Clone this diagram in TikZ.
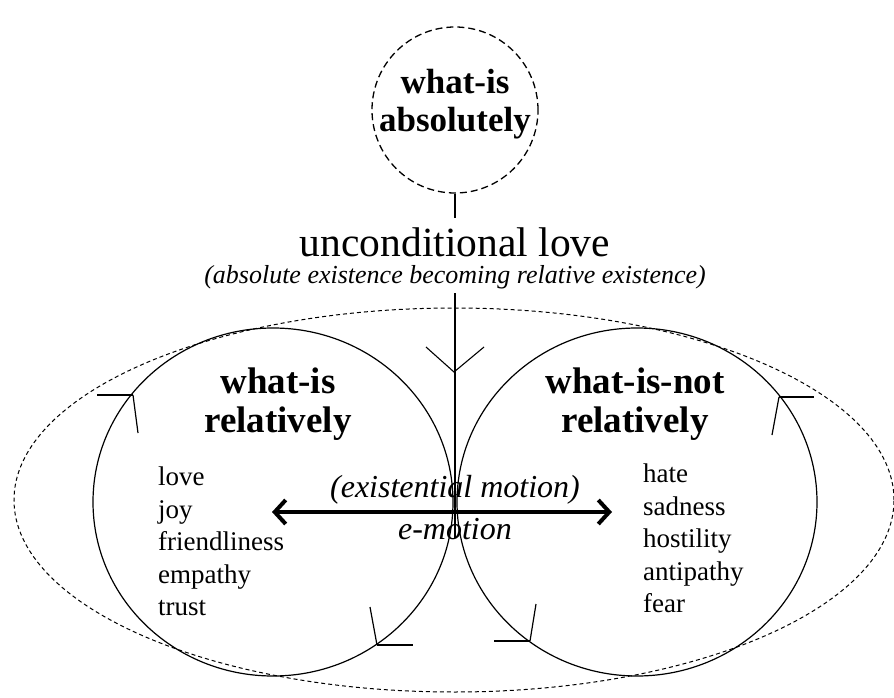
\documentclass[tikz,border=0pt]{standalone}
\usepackage{fontspec}
\setmainfont{Liberation Serif}
\usetikzlibrary{shapes.geometric,arrows.meta}
\begin{document}
\begin{tikzpicture}[x=1pt,y=-1pt,
  ring/.style={draw, ellipse, inner sep=0pt, line width=1.2pt, minimum width=360pt, minimum height=348pt},
  dashring/.style={draw, circle, inner sep=0pt, line width=1.3pt, dash pattern=on 7pt off 4pt},
  halo/.style={draw, ellipse, inner sep=0pt, line width=1pt, dash pattern=on 4pt off 3pt},
  link/.style={line width=1.1pt},
  barb/.style={line width=2.8pt},
  tick/.style={line width=1.2pt},
  title/.style={font=\fontsize{35}{38}\selectfont\bfseries, align=center, inner sep=0pt},
  bigtitle/.style={font=\fontsize{37}{39}\selectfont\bfseries, align=center, inner sep=0pt},
  words/.style={font=\fontsize{27}{32.5}\selectfont, align=left, anchor=north west, inner sep=0pt},
  motion/.style={font=\fontsize{32}{34}\selectfont\itshape, inner sep=0pt},
]
\useasboundingbox (0,0) rectangle (894,698);

% outer dashed ellipse and the two rings
\node[halo, minimum width=880pt, minimum height=384pt] (whole) at (454,500) {};
\node[ring] (isrel) at (273,502) {};
\node[ring] (notrel) at (637,502) {};

% top dashed circle
\node[dashring, minimum size=166pt] (abs) at (455,110) {};
\node[title] (abstext) at (455,104) {what-is\\absolutely};

% love line
\node[font=\fontsize{41.5}{44}\selectfont, inner sep=0pt] (love) at (455,242) {unconditional love};
\node[font=\fontsize{26}{30}\selectfont\itshape, inner sep=0pt] (becoming) at (455,277) {(absolute existence becoming relative existence)};
\coordinate (stubbot) at (455,218);
\draw[link] (abs.south) -- (stubbot);
\coordinate (linetop) at (455,293);
\coordinate (linebot) at (455,538);
\draw[link] (linetop) -- (linebot);
\coordinate (vtip) at (454,372);
\coordinate (vleft) at (426,347);
\coordinate (vright) at (484,347);
\draw[link] (vleft) -- (vtip) -- (vright);

% ring titles
\node[bigtitle] (reltitle) at (278,404) {what-is\\relatively};
\node[bigtitle] (nottitle) at (635,404) {what-is-not\\relatively};

% word lists
\node[words] (goodlist) at (158,467) {love\\joy\\friendliness\\empathy\\trust};
\node[words] (badlist) at (643,464) {hate\\sadness\\hostility\\antipathy\\fear};

% e-motion arrow
\coordinate (arrL) at (272,512);
\coordinate (arrR) at (612,512);
\draw[line width=4pt, {Straight Barb[length=11pt,width=24pt,line width=4pt]}-{Straight Barb[length=11pt,width=24pt,line width=4pt]}] (arrL) -- (arrR);
\node[motion] (exist) at (455,490) {(existential motion)};
\node[motion] (emo) at (455,529) {e-motion};

% circulation marks on the rings
\coordinate (m1) at (133,395);
\coordinate (m1a) at (97,395);
\coordinate (m1b) at (138,433);
\draw[barb] (m1) -- (m1a);
\draw[tick] (m1) -- (m1b);
\coordinate (m2) at (377,645);
\coordinate (m2a) at (413,645);
\coordinate (m2b) at (370,607);
\draw[barb] (m2) -- (m2a);
\draw[tick] (m2) -- (m2b);
\coordinate (m3) at (530,641);
\coordinate (m3a) at (494,641);
\coordinate (m3b) at (536,604);
\draw[barb] (m3) -- (m3a);
\draw[tick] (m3) -- (m3b);
\coordinate (m4) at (779,397);
\coordinate (m4a) at (814,397);
\coordinate (m4b) at (772,435);
\draw[barb] (m4) -- (m4a);
\draw[tick] (m4) -- (m4b);
\end{tikzpicture}
\end{document}
